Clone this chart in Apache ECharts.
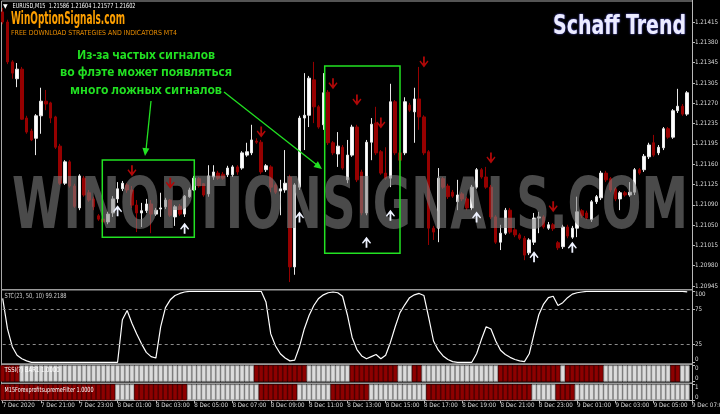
<!DOCTYPE html>
<html><head><meta charset="utf-8">
<script src="https://cdn.jsdelivr.net/npm/echarts@6/dist/echarts.min.js"></script>
<style>html,body{margin:0;padding:0;background:#000;}#c{width:720px;height:414px;}</style>
</head><body><div id="c"></div>
<script>
// ---------- DATA ----------
const timeTickLabels = ['7 Dec 2020','7 Dec 21:00','7 Dec 23:00','8 Dec 01:00','8 Dec 03:00','8 Dec 05:00','8 Dec 07:00','8 Dec 09:00','8 Dec 11:00','8 Dec 13:00','8 Dec 15:00','8 Dec 17:00','8 Dec 19:00','8 Dec 21:00','8 Dec 23:00','9 Dec 01:00','9 Dec 03:00','9 Dec 05:00','9 Dec 07:00'];
const priceTickLabels = ['1.20945','1.20980','1.21015','1.21050','1.21090','1.21125','1.21160','1.21195','1.21235','1.21270','1.21305','1.21345','1.21380','1.21415'];
const stcTickValues = [0, 25, 75, 100];
const tssiTickLabels = ['0', '0'];
const m15TickLabels = ['0', '1'];

// [open, close, low, high], one candle per 15 minutes from 7 Dec 19:00
const candles = [
[1.21433,1.21415,1.21411,1.21440],[1.21415,1.21344,1.21340,1.21419],[1.21344,1.21324,1.21314,1.21347],[1.21314,1.21331,1.21299,1.21342],[1.21331,1.21242,1.21241,1.21335],[1.21244,1.21219,1.21216,1.21248],[1.21221,1.21205,1.21203,1.21225],[1.21208,1.21248,1.21178,1.21251],
[1.21248,1.21274,1.21216,1.21298],[1.21274,1.21269,1.21258,1.21294],[1.21271,1.21244,1.21235,1.21273],[1.21246,1.21192,1.21189,1.21248],[1.21194,1.21128,1.21125,1.21198],[1.21128,1.21166,1.21125,1.21169],[1.21166,1.21123,1.21120,1.21169],[1.21123,1.21087,1.21084,1.21127],
[1.21084,1.21141,1.21080,1.21144],[1.21137,1.21107,1.21104,1.21141],[1.21111,1.21098,1.21095,1.21116],[1.21100,1.21086,1.21080,1.21104],[1.21070,1.21064,1.21061,1.21073],[1.21064,1.21059,1.21054,1.21071],[1.21059,1.21073,1.21055,1.21077],[1.21075,1.21100,1.21068,1.21105],
[1.21100,1.21118,1.21093,1.21130],[1.21118,1.21128,1.21114,1.21132],[1.21125,1.21116,1.21111,1.21128],[1.21116,1.21089,1.21084,1.21123],[1.21089,1.21075,1.21041,1.21098],[1.21075,1.21079,1.21050,1.21093],[1.21079,1.21091,1.21075,1.21100],[1.21091,1.21073,1.21039,1.21098],
[1.21073,1.21080,1.21070,1.21084],[1.21082,1.21084,1.21068,1.21111],[1.21086,1.21098,1.21082,1.21102],[1.21098,1.21071,1.21068,1.21100],[1.21068,1.21086,1.21052,1.21089],[1.21087,1.21073,1.21070,1.21091],[1.21073,1.21105,1.21068,1.21107],[1.21104,1.21116,1.21102,1.21120],
[1.21116,1.21137,1.21114,1.21141],[1.21136,1.21123,1.21120,1.21139],[1.21127,1.21107,1.21104,1.21128],[1.21109,1.21141,1.21104,1.21160],[1.21139,1.21148,1.21134,1.21160],[1.21146,1.21137,1.21134,1.21150],[1.21144,1.21137,1.21134,1.21148],[1.21143,1.21155,1.21139,1.21159],
[1.21143,1.21157,1.21139,1.21160],[1.21157,1.21148,1.21143,1.21160],[1.21155,1.21182,1.21152,1.21185],[1.21178,1.21184,1.21175,1.21200],[1.21182,1.21205,1.21178,1.21232],[1.21203,1.21201,1.21198,1.21208],[1.21201,1.21148,1.21144,1.21205],[1.21152,1.21159,1.21148,1.21162],
[1.21157,1.21121,1.21112,1.21160],[1.21125,1.21112,1.21109,1.21128],[1.21114,1.21118,1.21071,1.21134],[1.21116,1.21128,1.21111,1.21187],[1.21139,1.20979,1.20952,1.21143],[1.20979,1.21125,1.20965,1.21128],[1.21121,1.21244,1.21116,1.21248],[1.21244,1.21249,1.21187,1.21324],
[1.21249,1.21315,1.21228,1.21319],[1.21312,1.21264,1.21235,1.21344],[1.21264,1.21228,1.21225,1.21267],[1.21232,1.21289,1.21223,1.21324],[1.21290,1.21200,1.21196,1.21294],[1.21200,1.21182,1.21178,1.21203],[1.21180,1.21194,1.21157,1.21219],[1.21192,1.21155,1.21152,1.21196],
[1.21134,1.21178,1.21128,1.21205],[1.21178,1.21228,1.21175,1.21232],[1.21228,1.21134,1.21130,1.21232],[1.21148,1.21075,1.21071,1.21152],[1.21075,1.21201,1.21071,1.21205],[1.21201,1.21233,1.21169,1.21244],[1.21235,1.21182,1.21178,1.21264],[1.21184,1.21146,1.21143,1.21187],
[1.21146,1.21137,1.21134,1.21192],[1.21137,1.21273,1.21121,1.21305],[1.21273,1.21182,1.21178,1.21276],[1.21182,1.21169,1.21152,1.21187],[1.21182,1.21273,1.21178,1.21281],[1.21267,1.21258,1.21255,1.21271],[1.21255,1.21278,1.21200,1.21298],[1.21278,1.21246,1.21223,1.21335],
[1.21246,1.21182,1.21178,1.21249],[1.21184,1.21048,1.21018,1.21187],[1.21048,1.21041,1.21027,1.21052],[1.21048,1.21137,1.21023,1.21155],[1.21136,1.21121,1.21118,1.21139],[1.21123,1.21104,1.21100,1.21127],[1.21112,1.21105,1.21102,1.21116],[1.21095,1.21107,1.21080,1.21134],
[1.21109,1.21100,1.21096,1.21112],[1.21100,1.21084,1.21080,1.21104],[1.21084,1.21121,1.21080,1.21125],[1.21121,1.21152,1.21118,1.21155],[1.21152,1.21139,1.21136,1.21155],[1.21139,1.21121,1.21118,1.21157],[1.21121,1.21068,1.21064,1.21125],[1.21068,1.21023,1.21020,1.21071],
[1.21023,1.21039,1.21009,1.21054],[1.21039,1.21080,1.21036,1.21084],[1.21080,1.21041,1.21038,1.21084],[1.21045,1.21036,1.21032,1.21048],[1.21036,1.21030,1.21027,1.21039],[1.21030,1.21000,1.20991,1.21034],[1.21004,1.21027,1.21000,1.21030],[1.21023,1.21066,1.21018,1.21075],
[1.21066,1.21068,1.21039,1.21077],[1.21068,1.21050,1.21047,1.21071],[1.21048,1.21054,1.21045,1.21059],[1.21054,1.21047,1.21043,1.21057],[1.21022,1.21013,1.21009,1.21025],[1.21015,1.21050,1.21011,1.21054],[1.21050,1.21034,1.21030,1.21054],[1.21032,1.21048,1.21029,1.21052],
[1.21048,1.21077,1.21032,1.21104],[1.21079,1.21070,1.21066,1.21082],[1.21075,1.21066,1.21063,1.21079],[1.21063,1.21095,1.21059,1.21098],[1.21095,1.21104,1.21091,1.21107],[1.21102,1.21146,1.21098,1.21150],[1.21146,1.21134,1.21130,1.21150],[1.21136,1.21116,1.21112,1.21139],
[1.21118,1.21100,1.21096,1.21121],[1.21100,1.21111,1.21080,1.21114],[1.21111,1.21107,1.21104,1.21114],[1.21107,1.21112,1.21104,1.21130],[1.21112,1.21152,1.21107,1.21155],[1.21152,1.21146,1.21143,1.21155],[1.21152,1.21176,1.21148,1.21180],[1.21175,1.21196,1.21171,1.21200],
[1.21200,1.21178,1.21175,1.21214],[1.21182,1.21192,1.21178,1.21196],[1.21191,1.21225,1.21187,1.21228],[1.21225,1.21210,1.21207,1.21228],[1.21210,1.21257,1.21207,1.21260],[1.21257,1.21265,1.21253,1.21296],[1.21265,1.21251,1.21248,1.21269],[1.21251,1.21289,1.21248,1.21292]
];

// Schaff Trend Cycle values, one per candle
const stcValues = [
90,47,22,10,5,2,0,0,
0,0,0,0,0,0,0,0,
0,0,0,0,0,0,0,0,
0,60,73,55,40,26,14,8,
6,50,77,88,94,97,99,100,
100,100,100,100,100,100,100,100,
100,100,100,100,100,100,100,85,
40,23,12,6,2,3,22,47,
66,80,90,95,98,99,98,93,
67,35,18,9,5,8,11,5,
10,28,50,70,81,91,95,97,
94,63,30,17,9,4,1,0,
0,0,0,12,32,50,47,30,
17,11,7,4,2,1,12,40,
67,82,91,93,80,84,91,96,
98,99,100,100,100,100,100,100,
100,100,100,100,100,100,100,100,
100,100,100,100,100,100,100,99.2188
];

// signal arrows: [candle index, price]
const sellArrows = [[27,1.21150],[35,1.21128],[54,1.21219],[69,1.21305],[74,1.21276],[79,1.21235],[88,1.21344],[102,1.21173],[115,1.21086]];
const buyArrows = [[24,1.21079],[38,1.21048],[62,1.21068],[76,1.21023],[81,1.21071],[99,1.21068],[111,1.20997],[119,1.21014]];

// filter states as runs: [state, number of candles]  (R = red, W = white)
const tssiRuns = [['R',4],['W',49],['R',11],['W',9],['R',10],['W',3],['R',2],['W',16],['R',13],['W',1],['R',8],['W',14],['R',2],['W',2]];
const m15Runs = [['R',24],['W',4],['R',11],['W',15],['R',8],['W',7],['R',8],['W',12],['R',22],['W',5],['R',4],['W',24]];

// ---------- BUILD ----------
const N = candles.length;
const categories = [];
for (let i = 0; i <= N; i++) categories.push(i);
function expandRuns(runs){ const out=[]; runs.forEach(([s,n])=>{for(let k=0;k<n;k++) out.push(s);}); return out; }
const tssiStates = expandRuns(tssiRuns), m15States = expandRuns(m15Runs);
const RED='#8e0000', LIGHT='#dcdcdc';
const stateBar = s => ({value:1, itemStyle:{color: s==='R'?RED:LIGHT, borderColor: s==='R'?'#5e0000':'#9a9a9a', borderWidth:0.8}});

const P0 = +priceTickLabels[0], P1 = +priceTickLabels[priceTickLabels.length-1];
const gTop = 2, gBot = 289, labTop = 22, labBot = 286;
const ppx = (P1-P0)/(labBot-labTop);
const priceMin = P0 - (gBot-labBot)*ppx, priceMax = P1 + (labTop-gTop)*ppx;
const stepPx = (labBot-labTop)/(priceTickLabels.length-1);
const idxMin = -(gBot-labBot)/stepPx, idxMax = (priceTickLabels.length-1) + (labTop-gTop)/stepPx;
const priceIdx = priceTickLabels.map((_,i)=>i);

const SMALL = '"DejaVu Sans Condensed","DejaVu Sans",sans-serif';
const FS = 6.2;
const AX = '#b8b8b8', LAB = '#dcdcdc';
const GL = 2.7, GW = 689.3;

const downPath = 'path://M4,0L6,0L6,7L9,4L10,5L5,11L0,5L1,4L4,7Z';
const upPath = 'path://M4,11L6,11L6,4L9,7L10,6L5,0L0,6L1,7L4,4Z';

const mctx = document.createElement('canvas').getContext('2d');
function fit(text, font, w){ mctx.font = font; return w / mctx.measureText(text).width; }

const lab = extra => Object.assign({color:LAB, fontSize:FS, fontFamily:SMALL, margin:3}, extra);
function rightAxis(grid, extra){
  return Object.assign({
    type:'value', gridIndex:grid, position:'right',
    axisLine:{show:true, lineStyle:{color:AX, width:1}},
    splitLine:{show:false}
  }, extra);
}

const yAxes = [
  {type:'value', gridIndex:0, min:priceMin, max:priceMax, show:false},
  rightAxis(0, {min:idxMin, max:idxMax,
    axisTick:{show:true, length:3, lineStyle:{color:AX}, customValues:priceIdx},
    axisLabel:lab({customValues:priceIdx, formatter:v=>priceTickLabels[Math.round(v)]})}),
  rightAxis(1, {min:0, max:100,
    axisTick:{show:true, length:3, lineStyle:{color:AX}, customValues:stcTickValues},
    axisLabel:lab({customValues:stcTickValues, verticalAlignMinLabel:'bottom', verticalAlignMaxLabel:'top'})}),
  rightAxis(2, {min:0, max:1,
    axisTick:{show:true, length:3, lineStyle:{color:AX}, customValues:[0,1]},
    axisLabel:lab({customValues:[0,1], formatter:v=>tssiTickLabels[v], verticalAlignMinLabel:'bottom', verticalAlignMaxLabel:'top'})}),
  rightAxis(3, {min:0, max:1,
    axisTick:{show:true, length:3, lineStyle:{color:AX}, customValues:[0,1]},
    axisLabel:lab({customValues:[0,1], formatter:v=>m15TickLabels[v], verticalAlignMinLabel:'bottom', verticalAlignMaxLabel:'top'})})
];

const xAxes = [0,1,2,3].map(g => ({
  type:'category', gridIndex:g, data:categories, boundaryGap:false, show:g===3,
  axisLine:{show:true, lineStyle:{color:AX}},
  axisTick:{show:true, interval:7, length:3, lineStyle:{color:AX}},
  axisLabel:lab({show:true, interval:7, align:'left', margin:2, showMinLabel:true, showMaxLabel:true, hideOverlap:false,
    formatter:(v,i)=>timeTickLabels[i/8]}),
  splitLine:{show:false}
}));

const grids = [
  {left:GL, top:gTop, width:GW, height:gBot-gTop},
  {left:GL, top:291.3, width:GW, height:71},
  {left:GL, top:365.3, width:GW, height:16.4},
  {left:GL, top:384.3, width:GW, height:16}
].map(g => Object.assign(g, {containLabel:false, outerBoundsMode:'none', show:false}));

// ---------- GRAPHICS ----------
const WM_FONT = 'bold 72px "DejaVu Sans Condensed","DejaVu Sans",sans-serif';
const LOGO_FONT = 'bold 17px "DejaVu Sans Condensed","DejaVu Sans",sans-serif';
const TITLE_FONT = 'bold 27px "DejaVu Sans Condensed","DejaVu Sans",sans-serif';
const GREEN_FONT = 'bold 13px "Noto Sans","DejaVu Sans",sans-serif';
const SMALL_FONT = '7px ' + SMALL;
const GREEN = '#22e222';
const note = ['Из-за частых сигналов','во флэте может появляться','много ложных сигналов'];
const noteW = [138, 172, 152], noteY = [55, 72, 90];

function hline(y, x1, x2, color, w){ return {type:'line', z:1, shape:{x1, y1:y, x2, y2:y}, style:{stroke:color, lineWidth:w}}; }
function fitText(text, x, y, w, font, fill, z, extra){
  return {type:'text', x, y, z, scaleX:fit(text, font, w), style:Object.assign({text, font, fill, verticalAlign:'middle'}, extra||{})};
}
const headerText = 'EURUSD,M15  1.21586 1.21604 1.21577 1.21602';
const graphics = [
  hline(1, 1.5, 692.5, '#a8a8a8', 1),
  {type:'line', z:1, shape:{x1:1.5, y1:1, x2:1.5, y2:401}, style:{stroke:'#a8a8a8', lineWidth:1}},
  {type:'line', z:1, shape:{x1:692.5, y1:0, x2:692.5, y2:401}, style:{stroke:AX, lineWidth:1}},
  hline(289.8, 1.5, 692.5, '#9a9a9a', 1.6),
  hline(364.1, 1.5, 692.5, '#9a9a9a', 1.6),
  hline(383.2, 1.5, 692.5, '#9a9a9a', 1.6),
  fitText('WINOPTIONSIGNALS.COM', 12, 209, 676, WM_FONT, 'rgba(128,128,128,0.58)', 3),
  {type:'text', x:3, y:6, z:10, style:{text:'▼', font:'6px "DejaVu Sans",sans-serif', fill:'#ffffff', verticalAlign:'middle'}},
  fitText(headerText, 12.5, 6, 123, SMALL_FONT, '#ffffff', 10),
  fitText('WinOptionSignals.com', 11, 19.5, 114, LOGO_FONT, '#ffa000', 10),
  fitText('FREE DOWNLOAD STRATEGIES AND INDICATORS MT4', 11, 33, 166, SMALL_FONT, '#e88c00', 10),
  fitText('Schaff Trend', 553, 27, 133, TITLE_FONT, '#ececff', 10, {textShadowColor:'#6a6aff', textShadowBlur:2}),
  fitText('STC(23, 50, 10) 99.2188', 4.6, 296.5, 62, SMALL_FONT, '#cfcfcf', 10),
  fitText('TSSI(?) BAR1 1.0000', 4.6, 370.5, 55, SMALL_FONT, '#ffffff', 10),
  fitText('M15ForexprofitsupremeFilter 1.0000', 4.6, 390, 89, SMALL_FONT, '#ffffff', 10),
  {type:'rect', z:9, shape:{x:102.3, y:160, width:92, height:77.3}, style:{fill:null, stroke:GREEN, lineWidth:1.5}},
  {type:'rect', z:9, shape:{x:324.7, y:66, width:75.3, height:187.3}, style:{fill:null, stroke:GREEN, lineWidth:1.5}},
  {type:'line', z:9, shape:{x1:151, y1:101, x2:146, y2:150}, style:{stroke:GREEN, lineWidth:1.3}},
  {type:'polygon', z:9, shape:{points:[[145,156],[142.4,147.7],[149.4,148.5]]}, style:{fill:GREEN}},
  {type:'line', z:9, shape:{x1:224, y1:92, x2:317, y2:165}, style:{stroke:GREEN, lineWidth:1.3}},
  {type:'polygon', z:9, shape:{points:[[322,169],[313.5,166.9],[317.9,161.3]]}, style:{fill:GREEN}}
];
note.forEach((t,i)=>{ graphics.push(fitText(t, 146 - noteW[i]/2, noteY[i], noteW[i], GREEN_FONT, GREEN, 10)); });

const option = {
  backgroundColor:'#000000',
  animation:false,
  grid:grids,
  xAxis:xAxes,
  yAxis:yAxes,
  series:[
    {type:'candlestick', xAxisIndex:0, yAxisIndex:0, data:candles, barWidth:3, z:2,
     itemStyle:{color:'#ffffff', color0:'#960000', borderColor:'#e8e8e8', borderColor0:'#960000', borderWidth:1}},
    {type:'scatter', xAxisIndex:0, yAxisIndex:0, data:sellArrows, symbol:downPath, symbolSize:[9,11], z:5,
     itemStyle:{color:'#b00808', opacity:1}},
    {type:'scatter', xAxisIndex:0, yAxisIndex:0, data:buyArrows, symbol:upPath, symbolSize:[9,11], z:5,
     itemStyle:{color:'#eef2ff', opacity:1}},
    {type:'line', xAxisIndex:1, yAxisIndex:2, data:stcValues, showSymbol:false, symbol:'none',
     lineStyle:{color:'#ffffff', width:1.2},
     markLine:{silent:true, symbol:'none', label:{show:false}, lineStyle:{color:'#8c8c8c', type:[3,3], width:1},
       data:[{yAxis:75},{yAxis:25}]}},
    {type:'bar', xAxisIndex:2, yAxisIndex:3, data:tssiStates.map(stateBar), barCategoryGap:'0%'},
    {type:'bar', xAxisIndex:3, yAxisIndex:4, data:m15States.map(stateBar), barCategoryGap:'0%'}
  ],
  graphic:{elements:graphics}
};
const chart = echarts.init(document.getElementById('c'), null, {renderer:'canvas'});
chart.setOption(option);
</script>
</body></html>
